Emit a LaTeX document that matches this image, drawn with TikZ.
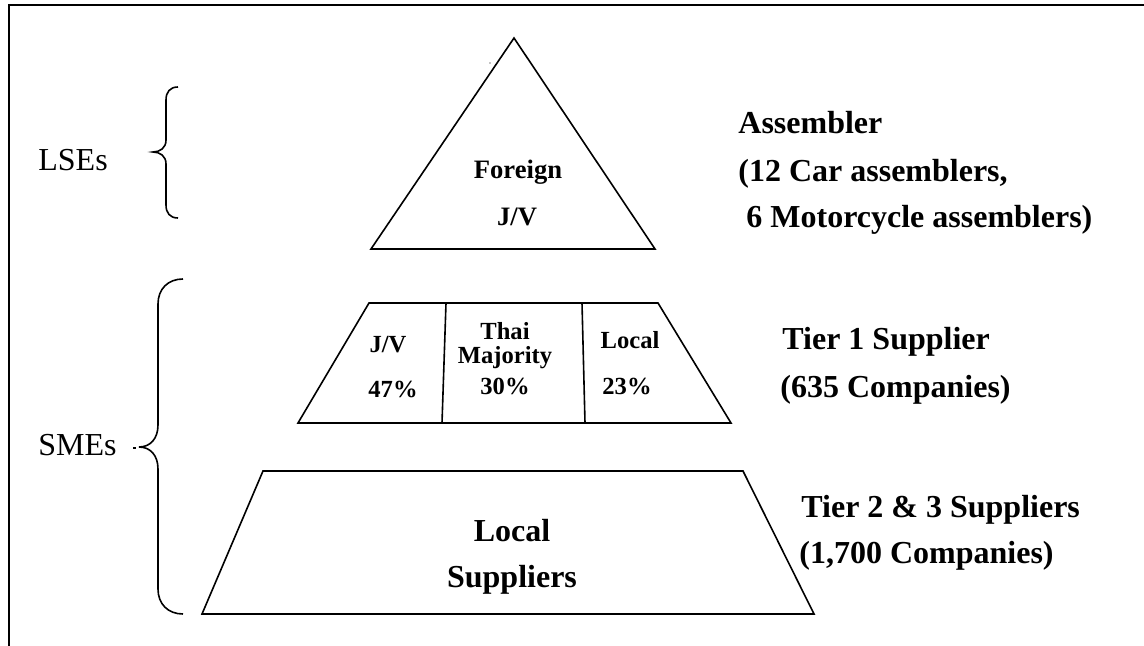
\documentclass[tikz,border=0pt]{standalone}
\usepackage{fontspec}
\setmainfont{Liberation Serif}
\begin{document}
\begin{tikzpicture}[x=0.5pt,y=-0.5pt,
  frame/.style={line width=1pt},
  outline/.style={line width=0.8pt, line join=miter},
  brace/.style={line width=0.8pt},
  side/.style={font=\fontsize{16}{19}\selectfont, anchor=base west, inner sep=0pt},
  tierlabel/.style={font=\fontsize{16}{19}\selectfont\bfseries, anchor=base west, inner sep=0pt},
  cell/.style={font=\fontsize{12.3}{14}\selectfont\bfseries, anchor=base, inner sep=0pt},
  apex/.style={font=\fontsize{13.3}{15}\selectfont\bfseries, anchor=base, inner sep=0pt},
  basetext/.style={font=\fontsize{16}{19}\selectfont\bfseries, anchor=base, inner sep=0pt}]
\useasboundingbox (0,0) rectangle (1144,646);

% outer frame (open at right and bottom)
\draw[frame] (9,646) -- (9,5) -- (1144,5);

% top level: assemblers
\draw[outline] (514,38) -- (655,249) -- (371,249) -- cycle;
\fill (490,63) circle (0.6);
\node[apex] (foreign) at (518,179) {Foreign};
\node[apex] (jv) at (517,226) {J/V};

% tier 1 trapezoid with three cells
\draw[outline] (369,303) -- (658,303) -- (731,423) -- (298,423) -- cycle;
\draw[outline] (446,303) -- (442,423);
\draw[outline] (582,303) -- (585,423);
\node[cell] (jvcell) at (388,352) {J/V};
\node[cell] (jvpct) at (393,397) {47\%};
\node[cell] (thai) at (505,339) {Thai};
\node[cell] (major) at (505,364) {Majority};
\node[cell] (thaipct) at (505,394) {30\%};
\node[cell] (local) at (630,349) {Local};
\node[cell] (localpct) at (627,394) {23\%};

% tiers 2 and 3 trapezoid
\draw[outline] (263,471) -- (743,471) -- (814,614) -- (202,614) -- cycle;
\node[basetext] (loc) at (512,541) {Local};
\node[basetext] (sup) at (512,587) {Suppliers};

% braces on the left
\draw[brace] (178,87) .. controls (170,87) and (166,92) .. (166,100) -- (166,140)
  .. controls (166,148) and (160,152) .. (153,152)
  .. controls (160,152) and (166,156) .. (166,164) -- (166,205)
  .. controls (166,213) and (170,218) .. (178,218);
\draw[brace] (183,279) .. controls (168,279) and (158,289) .. (158,304) -- (158,425)
  .. controls (158,439) and (150,447) .. (139,447)
  .. controls (150,447) and (158,455) .. (158,469) -- (158,589)
  .. controls (158,604) and (168,614) .. (183,614);
\draw[line width=0.6pt] (133,448) -- (136,448);
\node[side] (lse) at (38,171) {LSEs};
\node[side] (sme) at (38,455) {SMEs};

% labels on the right
\node[tierlabel] (asm1) at (738,134) {Assembler};
\node[tierlabel] (asm2) at (738,182) {(12 Car assemblers,};
\node[tierlabel] (asm3) at (738,228) {\ 6 Motorcycle assemblers)};
\node[tierlabel] (t1a) at (782,350) {Tier 1 Supplier};
\node[tierlabel] (t1b) at (780,397) {(635 Companies)};
\node[tierlabel] (t2a) at (801,517) {Tier 2 \& 3 Suppliers};
\node[tierlabel] (t2b) at (799,563) {(1,700 Companies)};
\end{tikzpicture}
\end{document}
